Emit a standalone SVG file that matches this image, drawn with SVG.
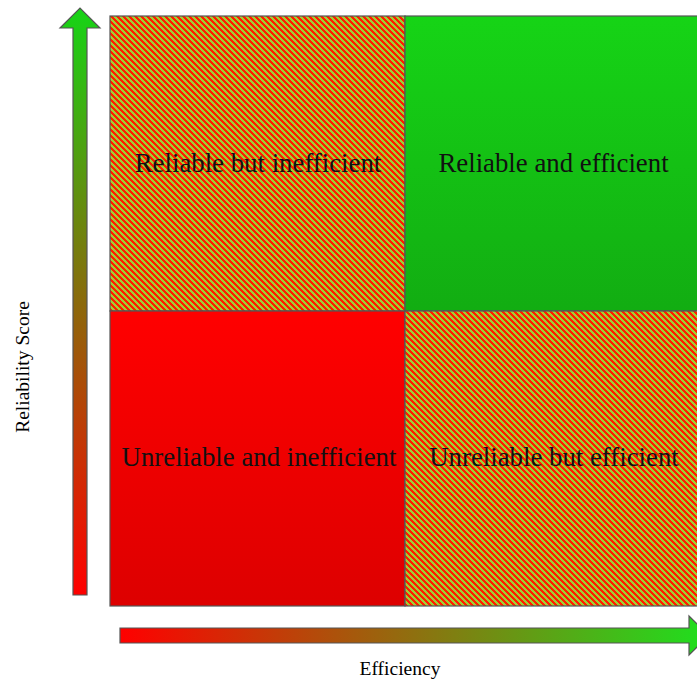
<svg xmlns="http://www.w3.org/2000/svg" width="697" height="679" viewBox="0 0 697 679">
<style>
.q{stroke:#555;stroke-width:1.2}
.lbl{font-family:"Liberation Serif","Times New Roman",serif;font-size:26.8px;fill:#111;text-anchor:middle}
.ax{font-family:"Liberation Serif","Times New Roman",serif;font-size:19.5px;fill:#000;text-anchor:middle}
.arr{stroke:#555;stroke-width:1.2}
.r{fill:#ff1e00}
</style>
<defs>
<pattern id="hatch" x="110" y="16" width="6" height="6" patternUnits="userSpaceOnUse">
<rect width="6" height="6" fill="#9fcf34"/>
<g class="r" shape-rendering="crispEdges">
<rect x="0" y="0" width="3" height="1"/>
<rect x="1" y="1" width="3" height="1"/>
<rect x="2" y="2" width="3" height="1"/>
<rect x="3" y="3" width="3" height="1"/>
<rect x="4" y="4" width="2" height="1"/><rect x="0" y="4" width="1" height="1"/>
<rect x="5" y="5" width="1" height="1"/><rect x="0" y="5" width="2" height="1"/>
</g>
</pattern>
<linearGradient id="gGreen" x1="0" y1="0" x2="0" y2="1">
<stop offset="0" stop-color="#16d416"/>
<stop offset="1" stop-color="#12ad12"/>
</linearGradient>
<linearGradient id="gRed" x1="0" y1="0" x2="0" y2="1">
<stop offset="0" stop-color="#ff0000"/>
<stop offset="1" stop-color="#dd0000"/>
</linearGradient>
<linearGradient id="gY" x1="0" y1="0" x2="0" y2="1">
<stop offset="0" stop-color="#16d416"/>
<stop offset="1" stop-color="#ff0000"/>
</linearGradient>
<linearGradient id="gX" x1="0" y1="0" x2="1" y2="0">
<stop offset="0" stop-color="#ff0000"/>
<stop offset="1" stop-color="#1ee01e"/>
</linearGradient>
</defs>
<g id="q-reliable-inefficient">
<rect class="q" x="110" y="16" width="295" height="295" fill="url(#hatch)"/>
<text class="lbl" x="258" y="172">Reliable but inefficient</text>
</g>
<g id="q-reliable-efficient">
<rect class="q" x="405" y="16" width="295" height="295" fill="url(#gGreen)"/>
<text class="lbl" x="553.5" y="172">Reliable and efficient</text>
</g>
<g id="q-unreliable-inefficient">
<rect class="q" x="110" y="311" width="295" height="295" fill="url(#gRed)"/>
<text class="lbl" x="259" y="466">Unreliable and inefficient</text>
</g>
<g id="q-unreliable-efficient">
<rect class="q" x="405" y="311" width="295" height="295" fill="url(#hatch)"/>
<text class="lbl" x="554" y="466">Unreliable but efficient</text>
</g>
<g id="connectors">
<polygon class="arr" fill="url(#gY)" points="73,595 87,595 87,28 100,28 80,8 60,28 73,28"/>
<polygon class="arr" fill="url(#gX)" points="120,628 689,628 689,616 709,635.5 689,655 689,643 120,643"/>
</g>
<g id="axis-y">
<text class="ax" transform="translate(29,367) rotate(-90)">Reliability Score</text>
</g>
<g id="axis-x">
<text class="ax" x="400" y="675">Efficiency</text>
</g>
</svg>
